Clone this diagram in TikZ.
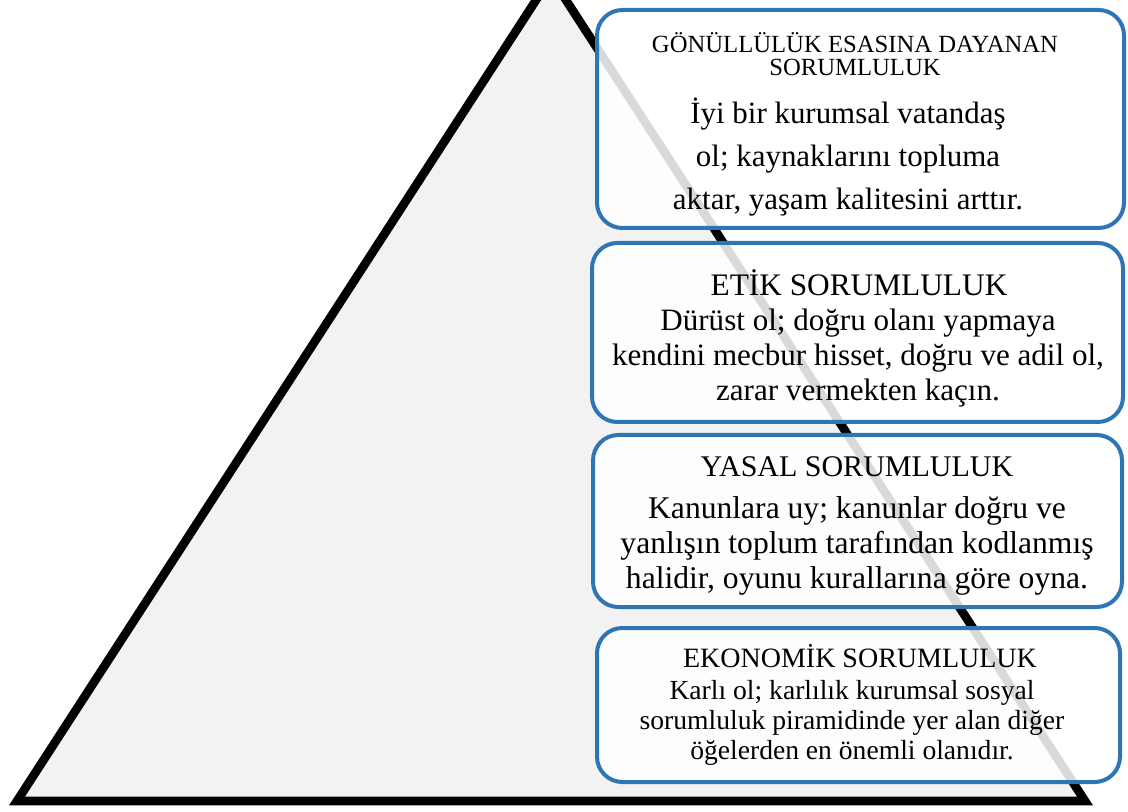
\documentclass[tikz,border=0pt]{standalone}
\usepackage{fontspec}
\setmainfont{Liberation Serif}
\usetikzlibrary{fit}
\definecolor{boxblue}{RGB}{46,117,182}
\definecolor{pyramidgray}{RGB}{242,242,242}

\begin{document}
\begin{tikzpicture}[
  x=0.75pt, y={(0,-0.75pt)},
  pyramid/.style={draw=black, line width=6.5pt, fill=pyramidgray},
  levelbox/.style={draw=boxblue, line width=3pt, rounded corners=19pt, fill=white, fill opacity=0.85, inner sep=0pt},
  heading/.style={align=center, inner sep=0pt},
  body/.style={align=center, inner sep=0pt},
]
  \useasboundingbox (0,0) rectangle (1128,812);
  % Pyramid: apex sits above the top edge
  \coordinate (apex)  at (551,-23);
  \coordinate (baseL) at (17,801);
  \coordinate (baseR) at (1085,801);
  \draw[pyramid] (apex) -- (baseR) -- (baseL) -- cycle;
  % Level boxes: name/left/top/right/bottom
  \foreach \lvl/\xl/\yt/\xr/\yb in {gonullu/597/10/1124/228, etik/592/243/1123/422,
                                    yasal/593/435/1122/607, ekonomik/597/628/1120/782}
    \node[levelbox, fit={(\xl,\yt) (\xr,\yb)}] (\lvl) {};
  % Voluntary level
  \node[heading, font=\fontsize{18.5}{17}\selectfont] (gonulluT) at (855,54)
    {GÖNÜLLÜLÜK ESASINA DAYANAN\\SORUMLULUK};
  \node[body, font=\fontsize{23.2}{32}\selectfont] (gonulluB) at (848,157)
    {İyi bir kurumsal vatandaş\\ol; kaynaklarını topluma\\aktar, yaşam kalitesini arttır.};
  % Ethical level
  \node[heading, font=\fontsize{23.5}{26}\selectfont] (etikT) at (859,283) {ETİK SORUMLULUK};
  \node[body, font=\fontsize{23.3}{26}\selectfont] (etikB) at (858,358)
    {Dürüst ol; doğru olanı yapmaya\\kendini mecbur hisset, doğru ve adil ol,\\zarar vermekten kaçın.};
  % Legal level
  \node[heading, font=\fontsize{22.5}{26}\selectfont] (yasalT) at (857,467) {YASAL SORUMLULUK};
  \node[body, font=\fontsize{23.7}{26.3}\selectfont] (yasalB) at (857,546)
    {Kanunlara uy; kanunlar doğru ve\\yanlışın toplum tarafından kodlanmış\\halidir, oyunu kurallarına göre oyna.};
  % Economic level
  \node[heading, font=\fontsize{21}{24}\selectfont] (ekonomikT) at (860,656) {EKONOMİK SORUMLULUK};
  \node[body, font=\fontsize{20.7}{22.5}\selectfont] (ekonomikB) at (852,723)
    {Karlı ol; karlılık kurumsal sosyal\\sorumluluk piramidinde yer alan diğer\\öğelerden en önemli olanıdır.};
\end{tikzpicture}
\end{document}
